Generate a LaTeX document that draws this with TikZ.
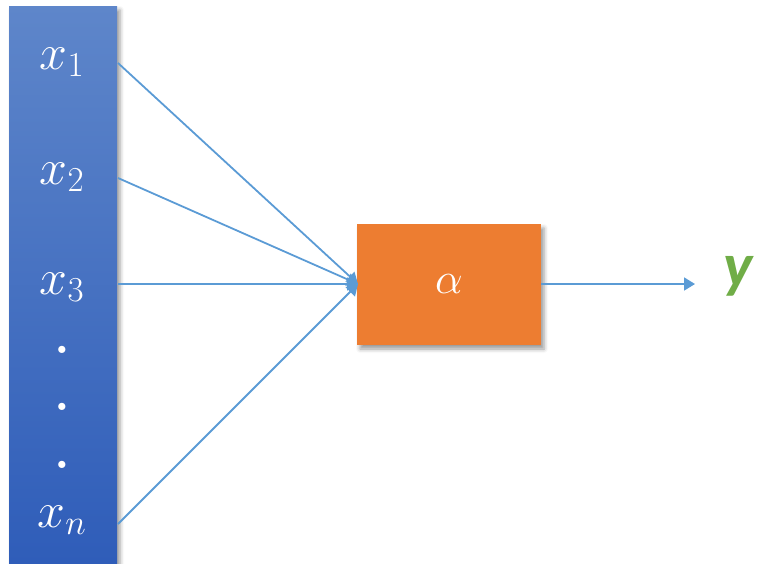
\documentclass[tikz,border=0pt]{standalone}
\usepackage{fix-cm}
\usepackage{fontspec}
\newfontfamily\yfont{Carlito}
\usetikzlibrary{shadows,shadows.blur,arrows.meta}
\definecolor{colTop}{HTML}{5E86CA}
\definecolor{colBot}{HTML}{2F5DB9}
\definecolor{lineblue}{HTML}{5B9BD5}
\definecolor{boxorange}{HTML}{ED7D31}
\definecolor{ygreen}{HTML}{70AD47}
\tikzset{
  xlab/.style={text=white, font=\fontsize{50}{56}\selectfont, inner sep=0pt},
  conn/.style={draw=lineblue, line width=1.8pt, -{Triangle[length=11pt,width=13pt]}},
  shad/.style={blur shadow={shadow xshift=3pt, shadow yshift=-4pt, shadow blur radius=4pt, shadow opacity=40}}
}
\begin{document}
\begin{tikzpicture}[x=1pt,y=-1pt]
\useasboundingbox (0,0) rectangle (759,563);
% input column
\path[shad] (9,6) rectangle (117,563);
\shade[top color=colTop, bottom color=colBot] (9,6) rectangle (117,563);
\node[xlab] (x1) at (62,62) {$x_1$};
\node[xlab] (x2) at (62,177) {$x_2$};
\node[xlab] (x3) at (62,287) {$x_3$};
\node[xlab] (d1) at (62,350) {\textbf{.}};
\node[xlab] (d2) at (62,407) {\textbf{.}};
\node[xlab] (d3) at (62,465) {\textbf{.}};
\node[xlab] (xn) at (62,520) {$x_n$};
% edge coordinates
\coordinate (p1) at (118,63);
\coordinate (p2) at (118,178);
\coordinate (p3) at (118,284);
\coordinate (pn) at (118,524);
% activation box
\node[fill=boxorange, minimum width=184pt, minimum height=121pt, inner sep=0pt, shad,
      text=white, font=\fontsize{44}{50}\selectfont] (a) at (449,284.5) {$\alpha$};
\coordinate (ain) at (358,284);
% output
\node[text=ygreen, font=\yfont\bfseries\itshape\fontsize{62}{68}\selectfont, inner sep=0pt, anchor=west] (y) at (723,276) {y};
\coordinate (yend) at (695,284);
% connectors
\draw[conn] (p1) -- (ain);
\draw[conn] (p2) -- (ain);
\draw[conn] (p3) -- (ain);
\draw[conn] (pn) -- (ain);
\draw[conn] (a.east |- ain) -- (yend);
\end{tikzpicture}
\end{document}
